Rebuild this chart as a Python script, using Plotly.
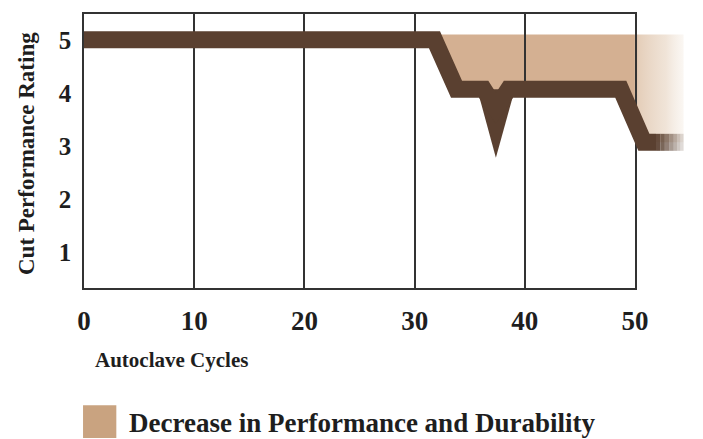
import plotly.graph_objects as go

# ---- data ----
cycles = [0, 31.8, 33.8, 36.26, 37.37, 38.51, 48.7, 50.8, 51.9,
          52.3, 52.7, 53.1, 53.5, 53.8, 54.1, 54.4]
rating = [5, 5, 4.07, 4.07, 3.71, 4.07, 4.07, 3.07, 3.07,
          3.07, 3.07, 3.07, 3.07, 3.07, 3.07, 3.07]
spike_cycles = [35.68, 37.37, 39.09]
spike_rating = [4.07, 2.78, 4.07]
top_rating = 5.1
x_ticks = [0, 10, 20, 30, 40, 50]
y_ticks = [1, 2, 3, 4, 5]
tail_opacity = [0.92, 0.8, 0.66, 0.52, 0.4, 0.28, 0.18]
legend_label = "Decrease in Performance and Durability"

X_FULL = 54.62          # visible extent of the drawing to the right of 50
Y_RANGE = [0.327, 5.486]

LINE = "#5a4030"
FONT = "Liberation Serif"
TXT = "#1e1e1e"

fig = go.Figure()

# ---- layer 1 (x/y): tan fill between the top level and the curve ----
fx = cycles[1:]
fig.add_trace(go.Scatter(x=fx, y=[top_rating] * len(fx), mode="lines",
                         line=dict(width=0, color="rgba(212,176,146,1)"),
                         showlegend=False, hoverinfo="skip"))
fig.add_trace(go.Scatter(x=fx, y=rating[1:], mode="lines",
                         line=dict(width=0, color="rgba(212,176,146,1)"), fill="tonexty",
                         fillgradient=dict(type="horizontal", colorscale=[
                             [0, "rgba(212,176,146,1)"],
                             [0.80, "rgba(212,176,146,1)"],
                             [0.82, "rgba(224,198,174,0.85)"],
                             [0.93, "rgba(230,210,190,0.6)"],
                             [1, "rgba(240,228,215,0.3)"]]),
                         showlegend=False, hoverinfo="skip"))

# ---- layer 2 (x2/y2): frame, grid and tick labels ----
fig.add_trace(go.Scatter(x=[None], y=[None], xaxis="x2", yaxis="y2",
                         showlegend=False, hoverinfo="skip"))

# ---- layer 3 (x3/y3): thick brown curve ----
n_main = len(cycles) - len(tail_opacity)
fig.add_trace(go.Scatter(x=spike_cycles, y=spike_rating, mode="lines", fill="toself",
                         fillcolor=LINE, line=dict(width=0, color=LINE),
                         xaxis="x3", yaxis="y3", showlegend=False, hoverinfo="skip"))
fig.add_trace(go.Scatter(x=cycles[:n_main], y=rating[:n_main], mode="lines",
                         line=dict(width=17, color=LINE), xaxis="x3", yaxis="y3",
                         showlegend=False))
for k, op in enumerate(tail_opacity):
    i = n_main - 1 + k
    fig.add_trace(go.Scatter(x=cycles[i:i + 2], y=rating[i:i + 2], mode="lines",
                             line=dict(width=17, color=LINE), opacity=op,
                             xaxis="x3", yaxis="y3", showlegend=False))

hidden = dict(visible=False, showgrid=False, zeroline=False)
frame = dict(showline=True, mirror=True, linecolor="#333", linewidth=1.5,
             zeroline=False, ticks="outside", tickcolor="rgba(0,0,0,0)")
frac50 = 50 / X_FULL

fig.update_layout(
    width=695, height=431,
    margin=dict(l=76, r=4, t=4, b=151),
    paper_bgcolor="white", plot_bgcolor="rgba(0,0,0,0)",
    xaxis=dict(range=[0, X_FULL], domain=[0, 1], anchor="y", **hidden),
    yaxis=dict(range=Y_RANGE, domain=[0, 1], anchor="x", **hidden),
    xaxis2=dict(range=[0, 50], domain=[0, frac50], anchor="y2", tickvals=x_ticks,
                showgrid=True, gridcolor="#333", gridwidth=1.5, ticklen=8,
                tickfont=dict(family=FONT, size=27, color=TXT, weight="bold"),
                **frame),
    yaxis2=dict(range=Y_RANGE, domain=[0, 1], anchor="x2", tickvals=y_ticks,
                showgrid=False, ticklen=6,
                tickfont=dict(family=FONT, size=25, color=TXT, weight="bold"),
                **frame),
    xaxis3=dict(range=[0, X_FULL], domain=[0, 1], anchor="y3", **hidden),
    yaxis3=dict(range=Y_RANGE, domain=[0, 1], anchor="x3", **hidden),
    annotations=[
        dict(text="Cut Performance Rating", textangle=-90, xref="paper", yref="paper",
             x=-0.0959, y=0.49, xanchor="center", yanchor="middle", showarrow=False,
             font=dict(family=FONT, size=23, color=TXT, weight="bold")),
        dict(text="Autoclave Cycles", xref="paper", yref="paper",
             x=0.0146, y=-0.261, xanchor="left", yanchor="middle", showarrow=False,
             font=dict(family=FONT, size=21, color=TXT, weight="bold")),
        dict(text=legend_label, xref="paper", yref="paper",
             x=0.0715, y=-0.493, xanchor="left", yanchor="middle", showarrow=False,
             font=dict(family=FONT, size=27, color=TXT, weight="bold")),
    ],
    shapes=[dict(type="rect", xref="paper", yref="paper",
                 x0=-0.0016, x1=0.0537, y0=-0.547, y1=-0.4275,
                 fillcolor="#c9a380", line=dict(width=0))],
)

fig.write_html("out.html")
